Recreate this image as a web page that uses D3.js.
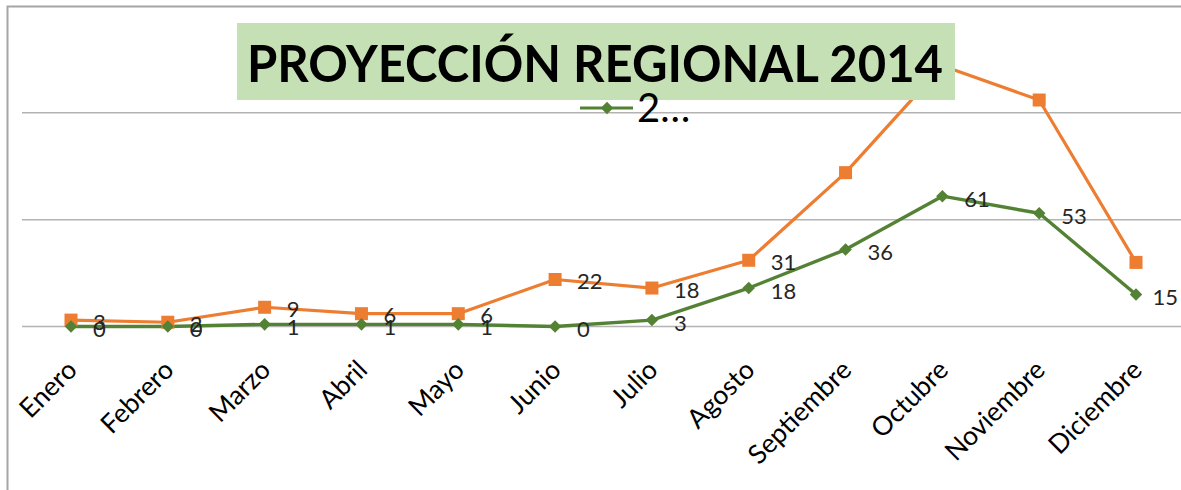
<!DOCTYPE html>
<html>
<head>
<meta charset="utf-8">
<script src="https://cdn.jsdelivr.net/npm/d3@7"></script>
<style>
  html, body { margin: 0; padding: 0; background: #fff; }
  svg { display: block; }
</style>
</head>
<body>
<svg id="chart" width="1181" height="490"></svg>
<script>
// ---- data ----
const months = ["Enero","Febrero","Marzo","Abril","Mayo","Junio","Julio","Agosto","Septiembre","Octubre","Noviembre","Diciembre"];
const seriesOrange = [3, 2, 9, 6, 6, 22, 18, 31, 72, 122, 106, 30];
const seriesGreen  = [0, 0, 1, 1, 1, 0, 3, 18, 36, 61, 53, 15];
const orangeLabelCount = 8; // only the first 8 orange points carry a data label
const yTicks = [0, 50, 100];
const titleText = "PROYECCIÓN REGIONAL 2014";
const legendText = "2…";

// ---- layout ----
const W = 1181, H = 490;
const svg = d3.select("#chart");
const FONT = "Lato, 'Open Sans', sans-serif";
const ORANGE = "#ED7D31", GREEN = "#548235";

const x = d3.scalePoint().domain(months).range([71, 1136]);
const y = d3.scaleLinear().domain([0, 150]).range([326.5, 6]);

// outer frame (left + top)
svg.append("path")
  .attr("d", `M7.5,${H} L7.5,6.5 L${W},6.5`)
  .attr("fill", "none").attr("stroke", "#a6a6a6").attr("stroke-width", 2);

// gridlines
svg.append("g")
  .selectAll("line").data(yTicks).join("line")
  .attr("x1", 22).attr("x2", W)
  .attr("y1", d => y(d)).attr("y2", d => y(d))
  .attr("stroke", "#b3b3b3").attr("stroke-width", 1.5);

// x axis labels
const xAxis = d3.axisBottom(x).tickSize(0).tickPadding(0);
const gx = svg.append("g").attr("transform", `translate(0,${y(0)})`).call(xAxis);
gx.select(".domain").remove();
gx.selectAll("text")
  .attr("font-family", FONT).attr("font-size", 26.5).attr("fill", "#000")
  .attr("text-anchor", "end")
  .attr("dy", null).attr("y", null)
  .attr("dominant-baseline", "central")
  .attr("transform", "translate(0,38) rotate(-45)");

// lines
const line = d3.line().x((d, i) => x(months[i])).y(d => y(d));
svg.append("path").datum(seriesOrange).attr("d", line)
  .attr("fill", "none").attr("stroke", ORANGE).attr("stroke-width", 3.2).attr("stroke-linejoin", "round");
svg.append("path").datum(seriesGreen).attr("d", line)
  .attr("fill", "none").attr("stroke", GREEN).attr("stroke-width", 3.4).attr("stroke-linejoin", "round");

// markers
svg.append("g").selectAll("rect").data(seriesOrange).join("rect")
  .attr("x", (d, i) => x(months[i]) - 6.5).attr("y", d => y(d) - 6.5)
  .attr("width", 13).attr("height", 13).attr("fill", ORANGE);
const diamond = d3.symbol().type(d3.symbolDiamond2).size(100);
svg.append("g").selectAll("path").data(seriesGreen).join("path")
  .attr("d", diamond)
  .attr("transform", (d, i) => `translate(${x(months[i])},${y(d)})`)
  .attr("fill", GREEN);

// data labels (kept inside the chart's right edge, as the original does)
const labelStyle = sel => sel.attr("font-family", FONT).attr("font-size", 22)
  .attr("fill", "#262626").attr("dominant-baseline", "central");
function placeLabels(sel) {
  sel.each(function(d, i) {
    const t = d3.select(this);
    const w = this.getComputedTextLength();
    t.attr("x", Math.min(x(months[i]) + 22, W - w - 3));
  });
}
svg.append("g").selectAll("text").data(seriesOrange.slice(0, orangeLabelCount)).join("text")
  .attr("y", d => y(d) + 1)
  .text(d => d).call(labelStyle).call(placeLabels);
svg.append("g").selectAll("text").data(seriesGreen).join("text")
  .attr("y", d => y(d) + 2)
  .text(d => d).call(labelStyle).call(placeLabels);

// title
svg.append("rect").attr("x", 237).attr("y", 23).attr("width", 718).attr("height", 77)
  .attr("fill", "#C5E0B4");
svg.append("text").attr("x", 247).attr("y", 82)
  .attr("font-family", FONT).attr("font-weight", 700).attr("font-size", 51)
  .attr("fill", "#000")
  .attr("textLength", 696).attr("lengthAdjust", "spacingAndGlyphs")
  .text(titleText);

// legend
const lg = svg.append("g");
lg.append("line").attr("x1", 580).attr("x2", 633).attr("y1", 108).attr("y2", 108)
  .attr("stroke", GREEN).attr("stroke-width", 3.2);
lg.append("path").attr("d", diamond).attr("transform", "translate(607,108)").attr("fill", GREEN);
lg.append("text").attr("x", 637).attr("y", 122)
  .attr("font-family", FONT).attr("font-size", 40).attr("fill", "#000")
  .text(legendText);
</script>
</body>
</html>
